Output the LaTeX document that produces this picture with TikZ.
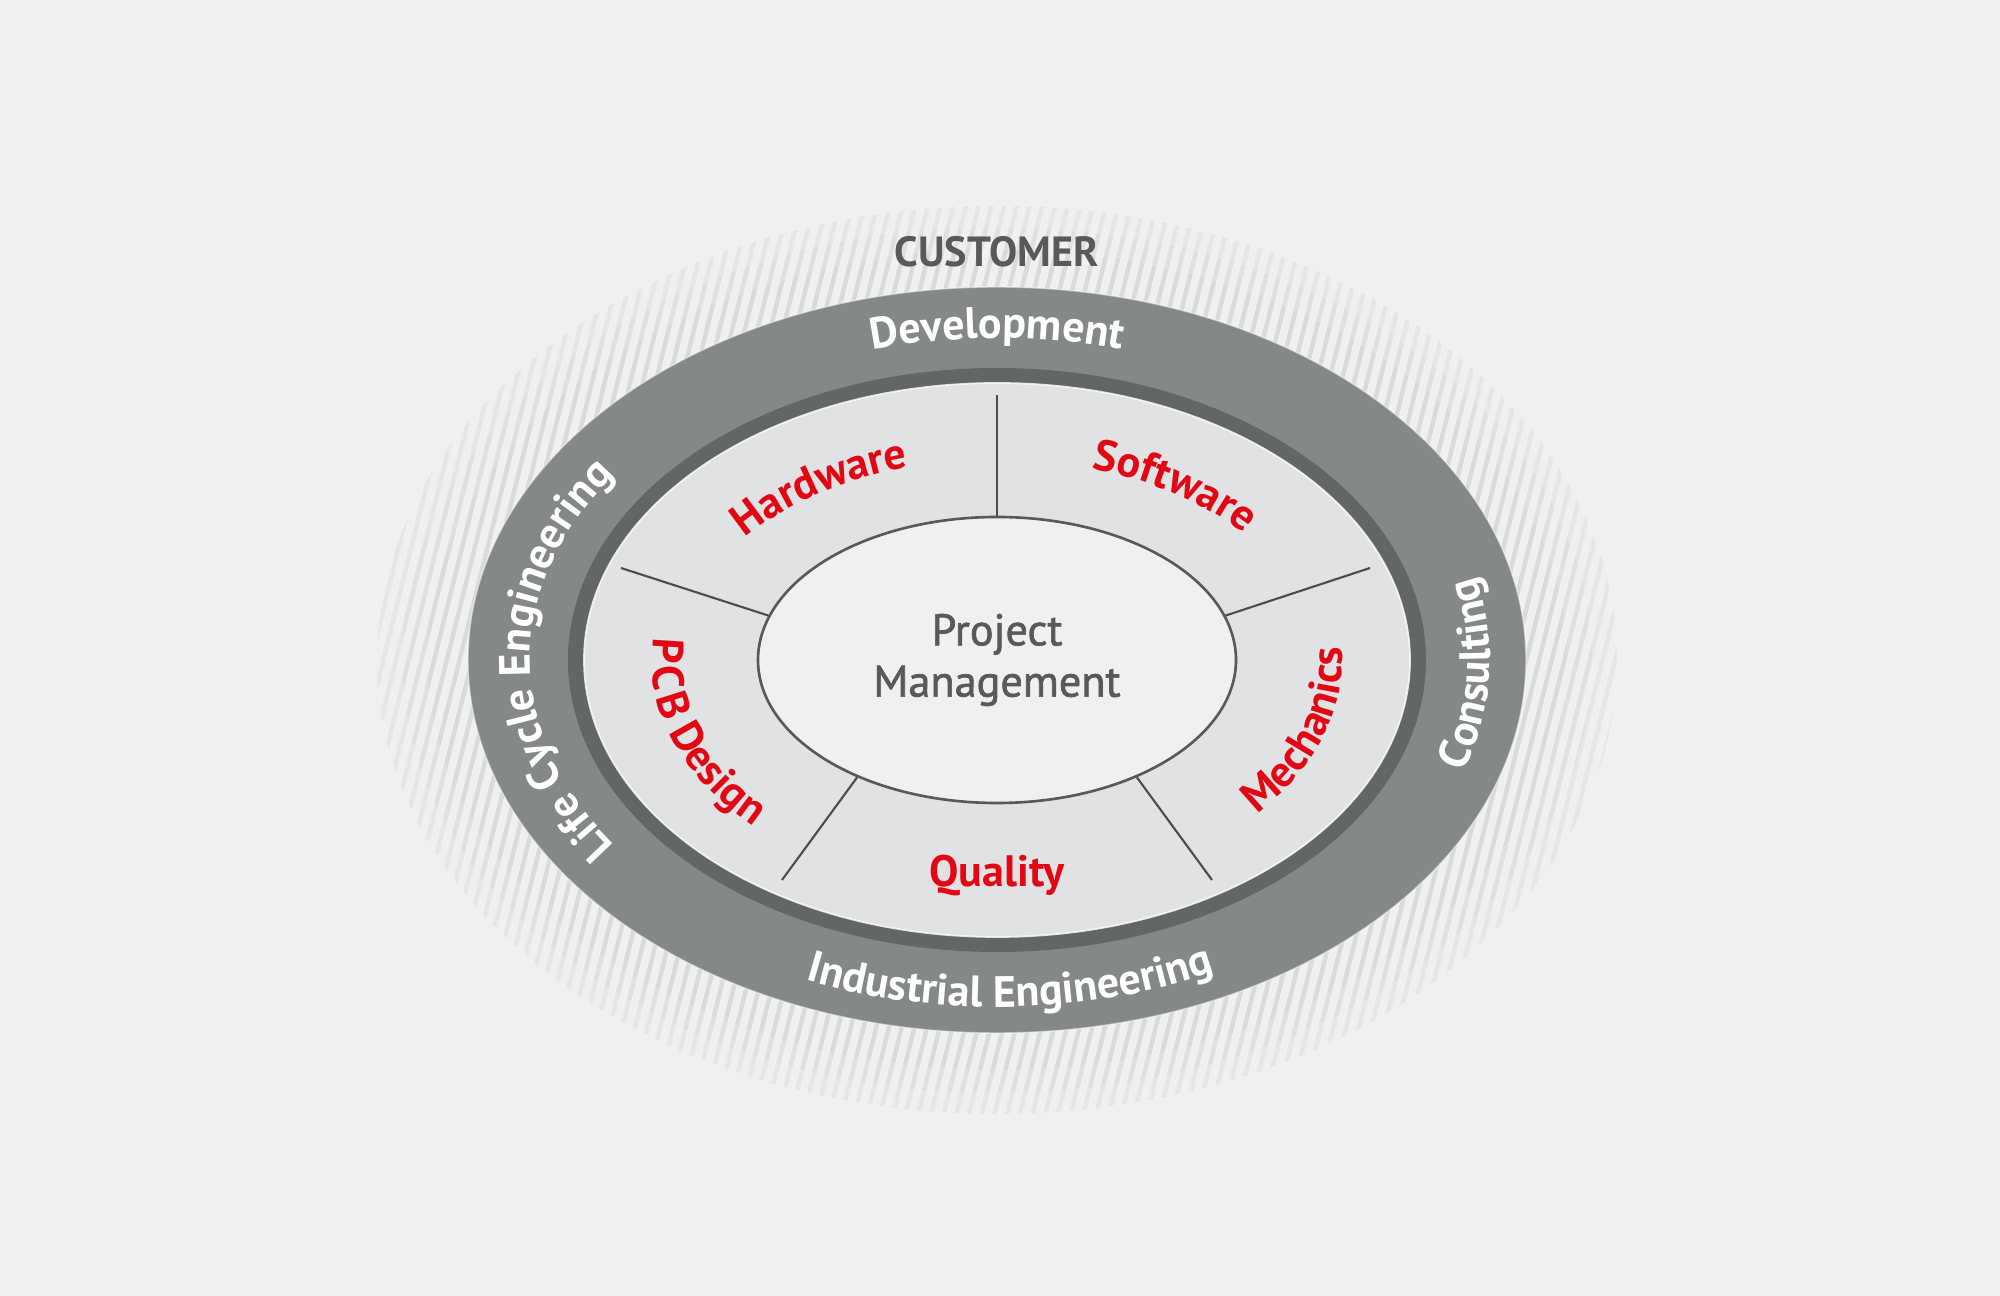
\documentclass[tikz,border=0pt]{standalone}
\usepackage{fontspec}
\setmainfont{PT Sans}
\newfontfamily\pmfont[FakeBold=1.5]{PT Sans}
\usetikzlibrary{shapes.geometric, decorations.text}

\definecolor{paper}{HTML}{EFF0EF}
\definecolor{stripe}{HTML}{D9DADB}
\definecolor{ringgray}{HTML}{858889}
\definecolor{ringdark}{HTML}{626667}
\definecolor{segfill}{HTML}{E1E2E3}
\definecolor{textgray}{HTML}{58595B}
\definecolor{linegray}{HTML}{4A4C4D}
\definecolor{brandred}{HTML}{E30613}

\newcommand{\ringfont}{\fontsize{12.5}{12.5}\selectfont\bfseries\color{white}}
\newcommand{\segfont}{\fontsize{12.5}{12.5}\selectfont\bfseries\color{brandred}}

\begin{document}
\begin{tikzpicture}[
    ringlabel/.style={decorate, decoration={text along path, text align=center, text={|\ringfont|#1}}},
    seglabel/.style={decorate, decoration={text along path, text align=center, text={|\segfont|#1}}},
    divider/.style={draw=linegray, line width=0.6pt}]

    \fill[paper] (0,0) rectangle (20,12.96);
    \coordinate (C) at (9.97,6.36);

    % striped halo round the rings
    \begin{scope}
        \clip (C) ellipse [x radius=6.2, y radius=4.54];
        \foreach \i in {0,...,135}
            \draw[stripe, line width=1.25pt] (1.0+0.127*\i,1.6) -- ++(2.36,9.5);
    \end{scope}
    \fill[paper, opacity=0.55, even odd rule] (C) ellipse [x radius=6.25, y radius=4.6]
        (C) ellipse [x radius=5.95, y radius=4.33];
    \fill[paper, opacity=0.3, even odd rule] (C) ellipse [x radius=5.95, y radius=4.33]
        (C) ellipse [x radius=5.7, y radius=4.1];

    % rings
    \fill[ringgray] (C) ellipse [x radius=5.29, y radius=3.73];
    \draw[white, opacity=0.5, line width=0.4pt] (C) ellipse [x radius=5.29, y radius=3.73];
    \fill[ringdark] (C) ellipse [x radius=4.29, y radius=2.92];
    \fill[segfill] (C) ellipse [x radius=4.13, y radius=2.77];
    \draw[white, opacity=0.8, line width=0.5pt] (C) ellipse [x radius=4.13, y radius=2.77];

    \node[ellipse, draw=textgray, line width=0.75pt, fill=paper, minimum width=4.78cm,
        minimum height=2.86cm, inner sep=0pt, align=center, text=textgray,
        font=\fontsize{12.6}{14.6}\selectfont\pmfont] (pm) at (C) {Project\\Management};

    \coordinate (d1) at (9.97,9.01);
    \coordinate (d2) at (6.21,7.28);
    \coordinate (d3) at (13.70,7.28);
    \coordinate (d4) at (7.82,4.16);
    \coordinate (d5) at (12.12,4.16);
    \draw[divider] (pm.90) -- (d1);
    \draw[divider] (pm.169) -- (d2);
    \draw[divider] (pm.11) -- (d3);
    \draw[divider] (pm.220) -- (d4);
    \draw[divider] (pm.320) -- (d5);

    \node[font=\fontsize{12}{12}\selectfont\bfseries, text=textgray, anchor=base] (customer)
        at (9.97,10.29) {CUSTOMER};

    % outer ring labels
    \path[ringlabel=Development] (C) ++(150:4.67 and 3.22)
        arc [start angle=150, end angle=30, x radius=4.67, y radius=3.22];
    \path[ringlabel={Life Cycle Engineering}] (C) ++(250:4.67 and 3.22)
        arc [start angle=250, end angle=110, x radius=4.67, y radius=3.22];
    \path[ringlabel=Consulting] (C) ++(-50:4.93 and 3.47)
        arc [start angle=-50, end angle=46, x radius=4.93, y radius=3.47];
    \path[ringlabel={Industrial Engineering}] (C) ++(212:4.93 and 3.47)
        arc [start angle=212, end angle=332, x radius=4.93, y radius=3.47];

    % segment labels
    \path[seglabel=Hardware] (C) ++(168:3.17 and 2.01)
        arc [start angle=168, end angle=88, x radius=3.17, y radius=2.01];
    \path[seglabel=Software] (C) ++(92:3.17 and 2.01)
        arc [start angle=92, end angle=12, x radius=3.17, y radius=2.01];
    \path[seglabel={P{\hspace{1.5pt}}C{\hspace{1.5pt}}B Design}] (C) ++(147:3.45 and 2.35)
        arc [start angle=147, end angle=247, x radius=3.45, y radius=2.35];
    \path[seglabel=Mechanics] (C) ++(294:3.45 and 2.35)
        arc [start angle=294, end angle=394, x radius=3.45, y radius=2.35];
    \node[font=\segfont, anchor=base] (quality) at (9.97,4.09) {Quality};

\end{tikzpicture}
\end{document}
